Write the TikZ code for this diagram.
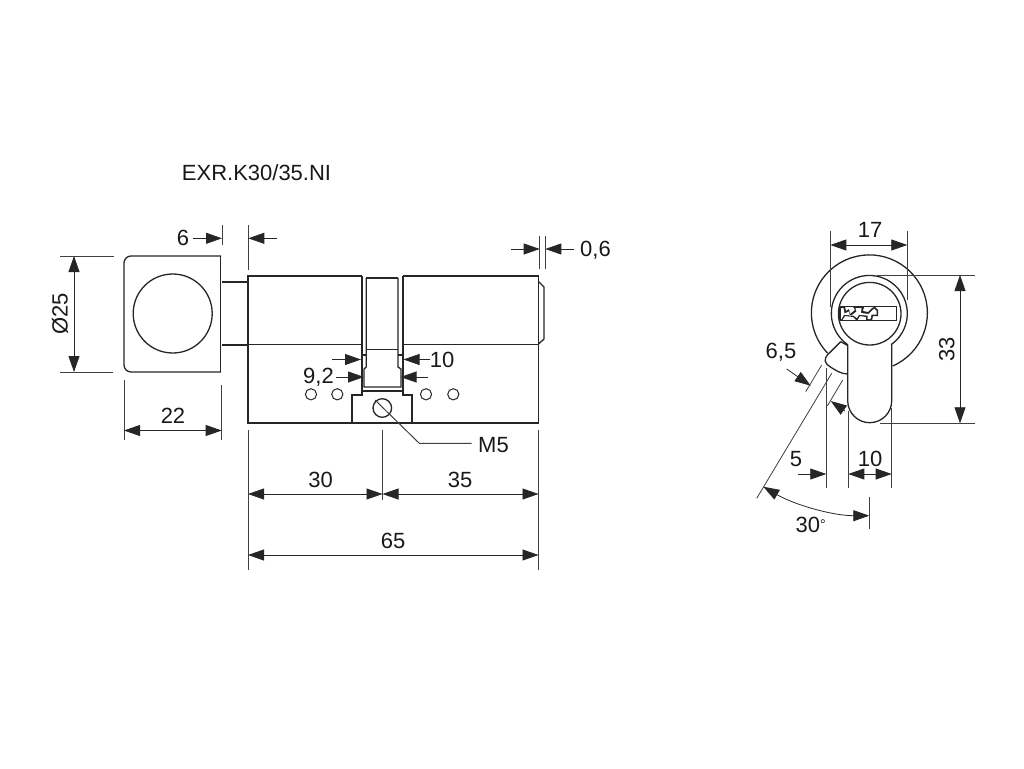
\documentclass[tikz,border=0pt]{standalone}
\usepackage{fontspec}
\setmainfont{Liberation Sans}
\usetikzlibrary{arrows.meta}
\tikzset{
  part/.style={line width=1.3pt,draw=black!85},
  thick part/.style={line width=1.7pt,draw=black!85},
  extline/.style={line width=0.8pt,draw=black!75},
  dimline/.style={line width=0.8pt,draw=black!85,-{Triangle[length=16pt,width=11pt]}},
  bothline/.style={line width=0.8pt,draw=black!85,{Triangle[length=16pt,width=11pt]}-{Triangle[length=16pt,width=11pt]}},
  dimtext/.style={inner sep=0pt,font=\fontsize{22}{26}\selectfont,text=black!90}
}
\begin{document}
\begin{tikzpicture}[x=1pt,y=-1pt]
  \useasboundingbox (0,0) rectangle (1024,768);
  \node[dimtext] (title) at (256.5,172.5) {EXR.K30/35.NI};

  % knob
  \draw[part,rounded corners=7pt] (221,256) -- (124,256) -- (124,372) -- (221,372);
  \draw[thick part] (220.5,256) -- (220.5,372);
  \draw[part] (172.7,313.5) circle[radius=39.5pt];
  \draw[part] (222,282) -- (248,282);
  \draw[part] (222,345) -- (248,345);

  % body
  \draw[thick part] (361.7,276) -- (248,276) -- (248,423) -- (538.5,423) -- (538.5,276) -- (402.7,276);
  \draw[part] (248,344.5) -- (361.7,344.5);
  \draw[part] (402.7,344.5) -- (538.5,344.5);
  \draw[part] (538.5,281.5) -- (544,287) -- (544,339) -- (538.5,344);
  % middle part
  \draw[thick part] (361.7,276) -- (361.7,395) -- (352,395) -- (352,423);
  \draw[thick part] (402.7,276) -- (402.7,395) -- (412.3,395) -- (412.3,423);
  \draw[part] (366.3,278) -- (398,278);
  \draw[part] (366.3,278) -- (366.3,367) -- (364,369) -- (364,387) -- (401,387) -- (401,369) -- (398,367) -- (398,278);
  \draw[part] (366.3,349.3) -- (398,349.3);
  \draw[part] (361.7,355) -- (366.3,355);
  \draw[part] (398,355) -- (402.7,355);
  \draw[part] (361.7,391) -- (402.7,391);
  % holes
  \foreach \i in {311,337.3,426,453.3}
    \draw[part,line width=1pt] (\i,394.3) circle[radius=5.6pt];
  \draw[part] (382.3,408) circle[radius=9.3pt];

  % side view
  \draw[part] (892.7,366) arc[start angle=-66.3,end angle=224,radius=58pt];
  \draw[part] (869.7,313.7) circle[radius=31.3pt];
  \draw[part] (847.7,344.7) arc[start angle=235.3,end angle=-55.3,radius=38pt];
  \draw[part] (847.7,344.7) -- (847.7,400.7) arc[start angle=180,end angle=360,radius=22pt] -- (891.7,344.7);
  \draw[part] (840.7,341.7) -- (827.3,355) .. controls (823.5,359) and (825,364) .. (830,366.7) .. controls (835,370) and (841,374) .. (847.7,374);
  \draw[part] (840.7,341.7) -- (847.7,345.5);
  % keyway
  \draw[part] (839.3,306.7) rectangle (896.3,320.7);
  \fill[black!85] (839.3,306.7) -- (845,306.7) -- (846,311) -- (849,309) -- (850,314) -- (855,310) -- (853,306.7) -- (864,306.7) -- (863,311) -- (868,312) -- (872,308) -- (875,306.7) -- (878,310) -- (878,316) -- (873,316) -- (872,320.7) -- (866,320.7) -- (866,317) -- (860,316) -- (857,320.7) -- (853,317) -- (845,316) -- (842,320.7) -- (839.3,320.7) -- cycle;
  \fill[white] (841,308.2) -- (843.5,308.2) -- (844.5,313.5) -- (849,311.5) -- (850,316.5) -- (856.5,311.5) -- (855.5,308.2) -- (861.5,308.2) -- (861,313) -- (868.5,314) -- (872.5,310) -- (874.5,308.7) -- (876.5,311) -- (876.5,314.5) -- (871.5,314.5) -- (870.5,319.2) -- (867.5,319.2) -- (867.5,315.7) -- (859,314.7) -- (857,318) -- (853.5,315.7) -- (844,314.7) -- (841.5,319.2) -- (841,319.2) -- cycle;

  % leader to the screw
  \coordinate (slot) at (375,400);
  \coordinate (bend) at (419.3,443.3);
  \coordinate (leaderend) at (471.7,443.3);
  \draw[extline,line width=1pt] (slot) -- (bend) -- (leaderend);
  \node[dimtext,anchor=west] (mfive) at (478,445.5) {M5};

  % extension lines
  \draw[extline] (222,225) -- (222,245);
  \draw[extline] (248.3,225) -- (248.3,270);
  \draw[extline] (60,256) -- (114,256);
  \draw[extline] (60,372) -- (113,372);
  \draw[extline] (124,380) -- (124,440);
  \draw[extline] (221.7,385) -- (221.7,440);
  \draw[extline] (248,430) -- (248,570);
  \draw[extline] (538.5,430) -- (538.5,570);
  \draw[extline] (382.5,430) -- (382.5,500);
  \draw[extline] (539.7,235.7) -- (539.7,269);
  \draw[extline] (545.3,235.7) -- (545.3,269);
  \draw[extline] (830.3,231) -- (830.3,306.7);
  \draw[extline] (907.3,231) -- (907.3,300);
  \draw[extline] (876.7,275) -- (975,275);
  \draw[extline] (880,423.3) -- (975,423.3);
  \draw[extline] (826.3,368) -- (826.3,487.7);
  \draw[extline] (848.3,411) -- (848.3,487.7);
  \draw[extline] (891.7,408) -- (891.7,487.7);
  \draw[extline] (821.7,365) -- (805.7,391.7);
  \draw[extline] (842.7,380) -- (827.3,406);
  \draw[extline] (831.7,373.3) -- (756.7,498.3);
  \draw[extline] (869.3,496.7) -- (869.3,529.3);

  % dimensions
  \draw[dimline] (193,238.3) -- (222,238.3);
  \draw[dimline] (277,238.3) -- (248.3,238.3);
  \draw[dimline] (511,249) -- (539.7,249);
  \draw[dimline] (574,249) -- (545.3,249);
  \draw[bothline] (74,256) -- (74,372);
  \draw[bothline] (124,430.5) -- (221.7,430.5);
  \draw[bothline] (248,494) -- (382.5,494);
  \draw[bothline] (382.5,494) -- (538.5,494);
  \draw[bothline] (248,555) -- (538.5,555);
  \draw[dimline] (332,359.5) -- (361,359.5);
  \draw[dimline] (430,359.5) -- (403.5,359.5);
  \draw[dimline] (336,377) -- (364,377);
  \draw[dimline] (428,377) -- (400.5,377);
  \draw[bothline] (830.3,245) -- (907.3,245);
  \draw[bothline] (960,275) -- (960,423.3);
  \draw[dimline] (798,474) -- (826.3,474);
  \draw[bothline] (848.3,474) -- (891.7,474);
  \draw[dimline] (786.7,369) -- (810.7,385.7);
  \draw[dimline] (845,411) -- (830.7,401);
  \draw[bothline] (763.3,486.7) .. controls (794.9,505) and (832.8,515.7) .. (869.3,515.7);

  % labels
  \node[dimtext] (six) at (183,238) {6};
  \node[dimtext,rotate=90] (dia) at (60,314) {Ø25};
  \node[dimtext] (width) at (173,416) {22};
  \node[dimtext,anchor=west] (gap) at (580,250) {0,6};
  \node[dimtext] (ten) at (442,360) {10};
  \node[dimtext] (ninetwo) at (318.5,377) {9,2};
  \node[dimtext] (left) at (320.5,480) {30};
  \node[dimtext] (right) at (460,480) {35};
  \node[dimtext] (total) at (393,541) {65};
  \node[dimtext] (seventeen) at (870,230) {17};
  \node[dimtext,rotate=90] (height) at (946.7,349) {33};
  \node[dimtext] (sixfive) at (781,352) {6,5};
  \node[dimtext] (five) at (796,459) {5};
  \node[dimtext] (tenb) at (870,459) {10};
  \node[dimtext,anchor=west] (angle) at (795.5,525) {30\raisebox{3pt}{\fontsize{14}{14}\selectfont °}};
\end{tikzpicture}
\end{document}
